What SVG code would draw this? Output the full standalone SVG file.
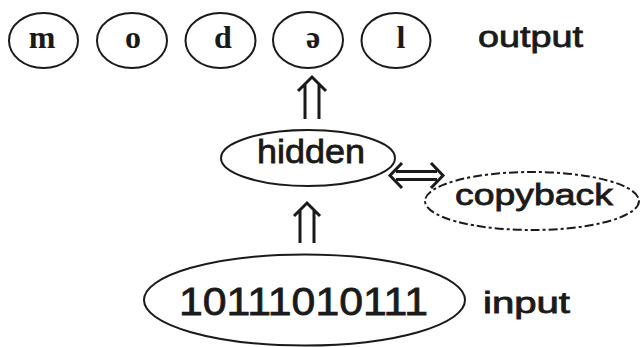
<svg xmlns="http://www.w3.org/2000/svg" width="641" height="347" viewBox="0 0 641 347">
<style>
.node{fill:none;stroke:#1a1a1a;stroke-width:2}
.dash{stroke-dasharray:9 3 3 3}
.lbl{font-family:"Liberation Sans","DejaVu Sans",sans-serif;fill:#1a1a1a;stroke:#1a1a1a;stroke-width:0.8}
.ltr{font-family:"Liberation Serif","DejaVu Serif",serif;font-weight:bold;fill:#1a1a1a;font-size:32px;text-anchor:middle}
.arr{fill:none;stroke:#1a1a1a;stroke-width:3;stroke-linejoin:miter}
</style>
<rect width="641" height="347" fill="#fff"/>
<g id="out-m"><ellipse class="node" cx="43.5" cy="40.5" rx="34.5" ry="27.5"/><text class="ltr" x="42" y="48">m</text></g>
<g id="out-o"><ellipse class="node" cx="132" cy="40.5" rx="35" ry="27.5"/><text class="ltr" x="133" y="48">o</text></g>
<g id="out-d"><ellipse class="node" cx="220.5" cy="40.5" rx="35" ry="27.5"/><text class="ltr" x="223" y="48">d</text></g>
<g id="out-schwa"><ellipse class="node" cx="308" cy="40" rx="35" ry="28"/><text class="ltr" x="313" y="48">ə</text></g>
<g id="out-l"><ellipse class="node" cx="396" cy="40.5" rx="34.5" ry="27.5"/><text class="ltr" x="401" y="48">l</text></g>
<g id="output-label"><text class="lbl" x="478" y="47" font-size="30" textLength="105" lengthAdjust="spacingAndGlyphs">output</text></g>
<g id="hidden"><ellipse class="node" cx="308" cy="158" rx="87" ry="28"/><text class="lbl" x="257" y="163" font-size="34" textLength="108" lengthAdjust="spacingAndGlyphs">hidden</text></g>
<g id="copyback"><ellipse class="node dash" cx="532" cy="201" rx="107" ry="29"/><text class="lbl" x="455" y="205" font-size="30" textLength="158" lengthAdjust="spacingAndGlyphs">copyback</text></g>
<g id="input"><ellipse class="node" cx="304.5" cy="300" rx="160.5" ry="45.5"/><text class="lbl" x="179" y="315" font-size="39" textLength="249" lengthAdjust="spacingAndGlyphs">10111010111</text></g>
<g id="input-label"><text class="lbl" x="483" y="313" font-size="29" textLength="87" lengthAdjust="spacingAndGlyphs">input</text></g>
<g id="connectors">
<path class="arr" d="M298 91 L312 77 L326 91 M305 84 V119 M319 84 V119"/>
<path class="arr" d="M294 216 L307 203 L320 216 M300 210 V243 M314 210 V243"/>
<path class="arr" d="M402 163 L390 175.5 L402 188 M431 163 L443 175.5 L431 188 M396 171.5 H437 M396 179.5 H437"/>
</g>
</svg>
